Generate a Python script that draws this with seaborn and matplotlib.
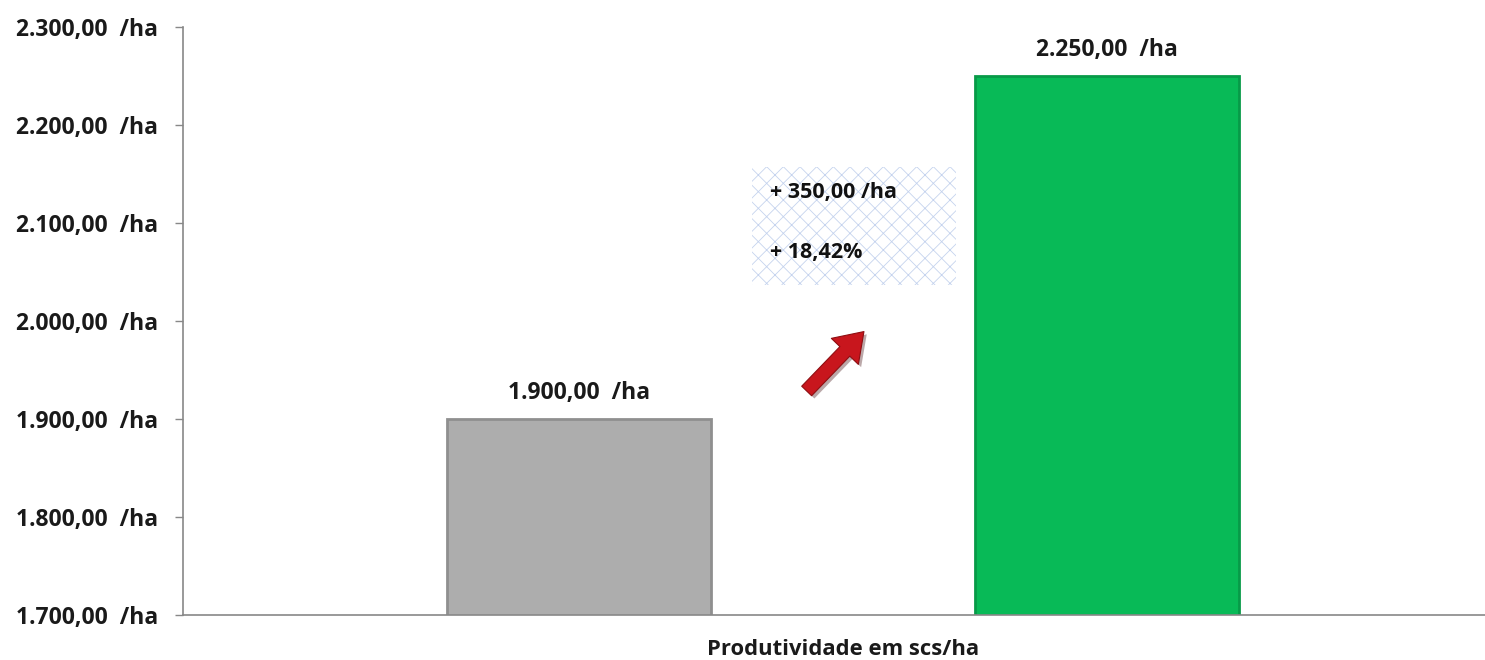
import matplotlib
matplotlib.use("Agg")
import matplotlib.pyplot as plt
import seaborn as sns
import pandas as pd
from matplotlib.patches import Rectangle
import matplotlib.patheffects as pe

categories = ["Produtividade em scs/ha"]
series = ["Antes", "Depois"]
values = [1900.0, 2250.0]
colors = ["#ADADAD", "#08BA57"]
edge_colors = ["#8F8F8F", "#079A48"]
yticks = [1700, 1800, 1900, 2000, 2100, 2200, 2300]
delta_text = ["+ 350,00 /ha", "+ 18,42%"]

def fmt(v):
    s = f"{v:,.2f}".replace(",", "X").replace(".", ",").replace("X", ".")
    return s + "  /ha"

df = pd.DataFrame({"cat": categories * len(series), "serie": series, "valor": values})

sns.set_theme(style="white")
plt.rcParams["font.family"] = ["Open Sans", "DejaVu Sans"]
plt.rcParams["hatch.linewidth"] = 0.6

fig = plt.figure(figsize=(14.85, 6.6), dpi=100)
ax = fig.add_axes([183 / 1485, 45 / 660, 1302 / 1485, 588 / 660])

sns.barplot(data=df, x="cat", y="valor", hue="serie", palette=colors,
            width=0.8, gap=0.5, ax=ax, legend=False, saturation=1)

for patch, ec in zip(ax.patches, edge_colors):
    patch.set_edgecolor(ec)
    patch.set_linewidth(2)

for cont in ax.containers:
    ax.bar_label(cont, labels=[fmt(v) for v in cont.datavalues], padding=10,
                 fontsize=16.5, fontweight="bold", color="#1a1a1a")

ax.set_ylim(yticks[0], yticks[-1])
ax.set_yticks(yticks)
ax.set_yticklabels([fmt(v) for v in yticks], fontsize=16.5, fontweight="bold", color="#1a1a1a")
ax.set_xlim(-0.5, 0.486)
ax.set_xlabel("")
ax.set_ylabel("")
ax.tick_params(axis="x", length=0, labelsize=15.8, pad=17)
for lab in ax.get_xticklabels():
    lab.set_fontweight("bold")
    lab.set_color("#1a1a1a")
ax.tick_params(axis="y", length=6, width=1, color="#888888", direction="out", left=True, pad=12)

for side in ["top", "right"]:
    ax.spines[side].set_visible(False)
for side in ["left", "bottom"]:
    ax.spines[side].set_color("#888888")
    ax.spines[side].set_linewidth(1.2)

# hatched annotation box
box = Rectangle((0.437, 0.561), 0.157, 0.201, transform=ax.transAxes,
                facecolor="white", edgecolor="#C5D3EE", hatch="xx", linewidth=0, zorder=3)
ax.add_patch(box)
ax.text(0.451, 0.718, delta_text[0], transform=ax.transAxes, fontsize=15.5,
        fontweight="bold", va="center", ha="left", color="#111111", zorder=4)
ax.text(0.451, 0.617, delta_text[1], transform=ax.transAxes, fontsize=15.5,
        fontweight="bold", va="center", ha="left", color="#111111", zorder=4)

# red arrow
ax.annotate("", xy=(0.523, 0.482), xytext=(0.479, 0.381), xycoords="axes fraction",
            textcoords="axes fraction",
            arrowprops=dict(arrowstyle="simple,head_width=1.5,head_length=1.1,tail_width=0.55",
                            mutation_scale=18, facecolor="#C8161D", edgecolor="#8E0E12",
                            linewidth=0.8, shrinkA=0, shrinkB=0,
                            path_effects=[pe.SimplePatchShadow(offset=(2, -2), alpha=0.35), pe.Normal()]),
            zorder=4)

fig.savefig("out.png", dpi=100)
